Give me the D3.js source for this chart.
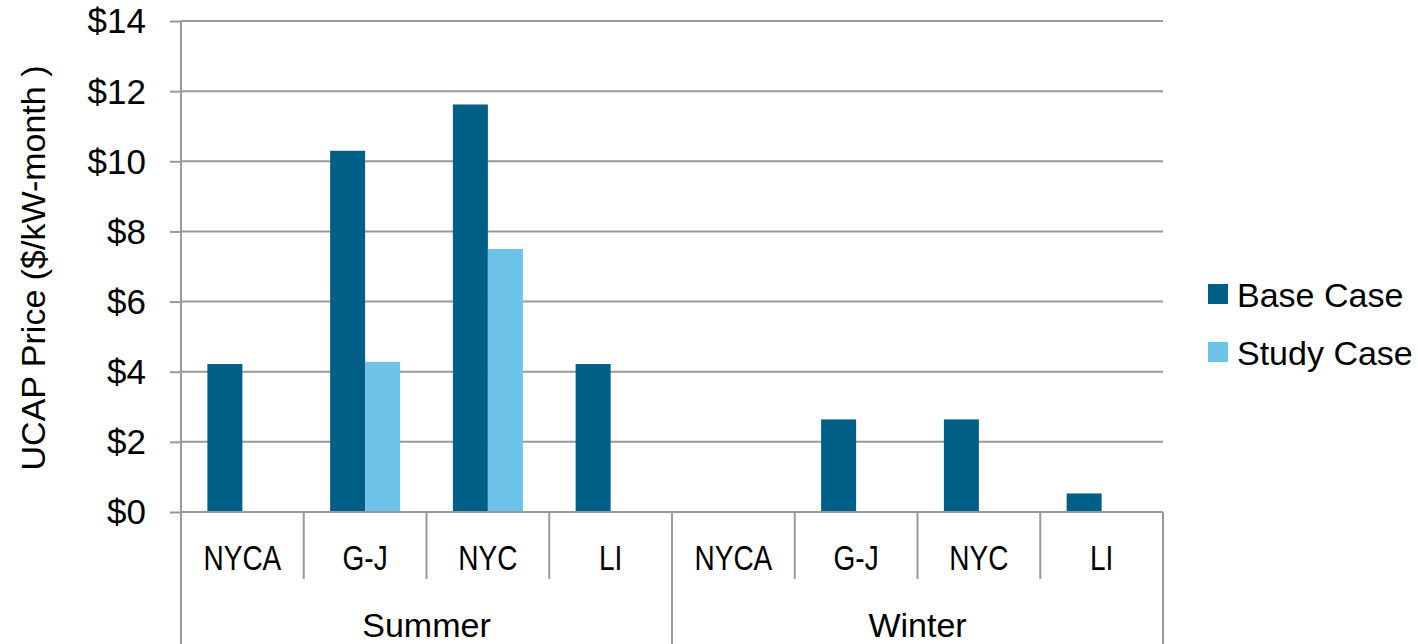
<!DOCTYPE html>
<html><head><meta charset="utf-8">
<script src="https://cdn.jsdelivr.net/npm/d3@7"></script>
<style>html,body{margin:0;padding:0;background:#fff;}</style>
</head><body>
<svg id="chart" width="1418" height="644"></svg>
<script>
const seasons = ["Summer", "Winter"];
const regions = ["NYCA", "G-J", "NYC", "LI"];
const seriesNames = ["Base Case", "Study Case"];
const baseCase = [4.22, 10.3, 11.62, 4.22, 0, 2.64, 2.64, 0.53];
const studyCase = [0, 4.28, 7.5, 0, 0, 0, 0, 0];
const yTicks = [0, 2, 4, 6, 8, 10, 12, 14];
const colors = ["#005F87", "#6DC3E8"];

const svg = d3.select("#chart");
const pLeft = 181, pRight = 1163, pTop = 21, pBottom = 512;
const cats = [];
seasons.forEach(s => regions.forEach(r => cats.push(s + "|" + r)));
const data = cats.map((c, i) => ({cat: c, vals: [baseCase[i], studyCase[i]]}));

const x0 = d3.scaleBand().domain(cats).range([pLeft, pRight]).paddingInner(0).paddingOuter(0);
const x1 = d3.scaleBand().domain(seriesNames).range([0, x0.bandwidth()]).paddingInner(0).paddingOuter(0.754);
const y = d3.scaleLinear().domain([0, 14]).range([pBottom, pTop]);
const xs = d3.scaleBand().domain(seasons).range([pLeft, pRight]);

const font = "'Liberation Sans', Arial, sans-serif";

// gridlines
svg.append("g").selectAll("line").data(yTicks).join("line")
  .attr("x1", pLeft).attr("x2", pRight)
  .attr("y1", d => y(d)).attr("y2", d => y(d))
  .attr("stroke", "#999").attr("stroke-width", 2);

// y axis
const yAxis = d3.axisLeft(y).tickValues(yTicks).tickSize(11).tickPadding(24).tickFormat(d => "$" + d);
const ya = svg.append("g").attr("transform", `translate(${pLeft},0)`).call(yAxis);
ya.select(".domain").remove();
ya.selectAll(".tick line").attr("stroke", "#999").attr("stroke-width", 2);
ya.selectAll(".tick text").attr("font-family", font).attr("font-size", 35).attr("fill", "#000").attr("dy", "0.34em");

// bars
const g = svg.append("g");
data.forEach(d => {
  g.append("g").attr("transform", `translate(${x0(d.cat)},0)`)
    .selectAll("rect").data(d.vals.map((v, i) => ({v, i}))).join("rect")
    .attr("x", e => x1(seriesNames[e.i]))
    .attr("width", x1.bandwidth())
    .attr("y", e => y(e.v))
    .attr("height", e => y(0) - y(e.v))
    .attr("fill", e => colors[e.i]);
});

// vertical axis line
svg.append("line").attr("x1", pLeft).attr("x2", pLeft).attr("y1", pTop).attr("y2", 644)
  .attr("stroke", "#999").attr("stroke-width", 2);
// baseline
svg.append("line").attr("x1", pLeft).attr("x2", pRight).attr("y1", pBottom).attr("y2", pBottom)
  .attr("stroke", "#999").attr("stroke-width", 2);

// category labels (condensed)
const xAxis = d3.axisBottom(x0).tickSize(0).tickFormat(c => c.split("|")[1]).tickPadding(0);
const xa = svg.append("g").attr("transform", `translate(0,${pBottom})`).call(xAxis);
xa.select(".domain").remove();
xa.selectAll(".tick text").attr("font-family", font).attr("font-size", 35).attr("fill", "#000")
  .attr("y", 58).attr("dy", 0).attr("transform", "scale(0.8,1)");
const bounds = cats.map(c => x0(c)).concat([pRight]);
svg.append("g").selectAll("line").data(bounds).join("line")
  .attr("x1", d => d).attr("x2", d => d)
  .attr("y1", pBottom).attr("y2", (d, i) => (i % 4 === 0) ? 644 : 579)
  .attr("stroke", "#999").attr("stroke-width", 2);

// season labels
svg.append("g").selectAll("text").data(seasons).join("text")
  .attr("x", s => xs(s) + xs.bandwidth() / 2).attr("y", 637)
  .attr("text-anchor", "middle").attr("font-family", font).attr("font-size", 34)
  .text(s => s);

// y title
svg.append("text").attr("transform", "translate(45,268) rotate(-90)")
  .attr("text-anchor", "middle").attr("font-family", font).attr("font-size", 34)
  .text("UCAP Price ($/kW-month )");

// legend
const lg = svg.append("g").selectAll("g").data(seriesNames).join("g")
  .attr("transform", (d, i) => `translate(1208,${284 + i * 58})`);
lg.append("rect").attr("width", 20).attr("height", 20).attr("fill", (d, i) => colors[i]);
lg.append("text").attr("x", 29).attr("y", 23).attr("font-family", font).attr("font-size", 34).text(d => d);
</script>
</body></html>
